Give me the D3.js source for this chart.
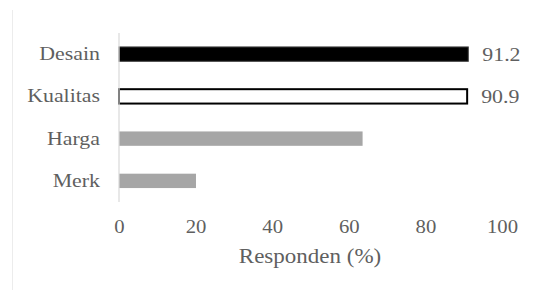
<!DOCTYPE html>
<html>
<head>
<meta charset="utf-8">
<script src="https://cdn.jsdelivr.net/npm/d3@7"></script>
<style>
  body { margin: 0; background: #fff; }
  text { font-family: "Liberation Serif", "Times New Roman", serif; fill: #5f5f5f; }
</style>
</head>
<body>
<div id="chart-area"></div>
<script>
// data
var categories = ["Desain", "Kualitas", "Harga", "Merk"];
var values = [91.2, 90.9, 63.6, 20.1];
var valueLabels = ["91.2", "90.9", "", ""];
var xTicks = [0, 20, 40, 60, 80, 100];
var axisTitle = "Responden (%)";

var fills = ["#000000", "#ffffff", "#a6a6a6", "#a6a6a6"];
var strokes = ["#404040", "#000000", "none", "none"];
var strokeW = [1, 2, 0, 0];

var width = 549, height = 290;
var stretch = 1.15;
var serif = "'Liberation Serif', serif";

var svg = d3.select("#chart-area").append("svg")
    .attr("width", width)
    .attr("height", height);

// faint frame line on the left
svg.append("line")
    .attr("x1", 12.5).attr("x2", 12.5)
    .attr("y1", 10).attr("y2", 290)
    .style("stroke", "#ececec");

var x = d3.scaleLinear()
    .domain([0, 100])
    .range([119, 502]);

var y = d3.scaleBand()
    .domain(categories)
    .range([33, 202])
    .paddingInner(0.66)
    .paddingOuter(0.33);

// bars
svg.selectAll(".bar")
    .data(categories)
    .enter().append("rect")
    .attr("class", "bar")
    .attr("x", x(0))
    .attr("y", function(d) { return y(d); })
    .attr("width", function(d, i) { return x(values[i]) - x(0); })
    .attr("height", y.bandwidth())
    .style("fill", function(d, i) { return fills[i]; })
    .style("stroke", function(d, i) { return strokes[i]; })
    .style("stroke-width", function(d, i) { return strokeW[i]; });

// vertical axis line
svg.append("line")
    .attr("x1", x(0)).attr("x2", x(0))
    .attr("y1", 33).attr("y2", 202)
    .style("stroke", "#d9d9d9")
    .style("stroke-width", 1.2);

// category labels
var yAxis = svg.append("g")
    .attr("transform", "translate(" + (x(0) - 19) + ",0)")
    .call(d3.axisLeft(y).tickSize(0).tickPadding(0));
yAxis.select(".domain").remove();
yAxis.selectAll("text")
    .attr("x", 0)
    .attr("transform", "scale(" + stretch + ",1)")
    .style("font-size", "19px")
    .style("font-family", serif)
    .style("fill", "#5f5f5f");

// value labels
svg.selectAll(".val")
    .data(categories)
    .enter().append("text")
    .attr("class", "val")
    .attr("x", function(d, i) { return x(values[i]) + 14; })
    .attr("y", function(d) { return y(d) + y.bandwidth() / 2; })
    .attr("dy", "0.35em")
    .attr("transform", function(d, i) {
        var px = x(values[i]) + 14;
        return "translate(" + px + ",0) scale(" + stretch + ",1) translate(" + (-px) + ",0)";
    })
    .style("font-size", "19px")
    .text(function(d, i) { return valueLabels[i]; });

// x axis tick labels
var xAxis = svg.append("g")
    .attr("transform", "translate(0,227)")
    .call(d3.axisBottom(x).tickValues(xTicks).tickSize(0).tickPadding(0));
xAxis.select(".domain").remove();
xAxis.selectAll("text")
    .attr("y", 0)
    .attr("dy", "0.35em")
    .attr("transform", "scale(" + stretch + ",1)")
    .style("font-size", "18px")
    .style("font-family", serif)
    .style("fill", "#5f5f5f");

// axis title
svg.append("text")
    .attr("text-anchor", "middle")
    .attr("transform", "translate(310,256) scale(" + stretch + ",1)")
    .attr("dy", "0.35em")
    .style("font-size", "20px")
    .text(axisTitle);
</script>
</body>
</html>
